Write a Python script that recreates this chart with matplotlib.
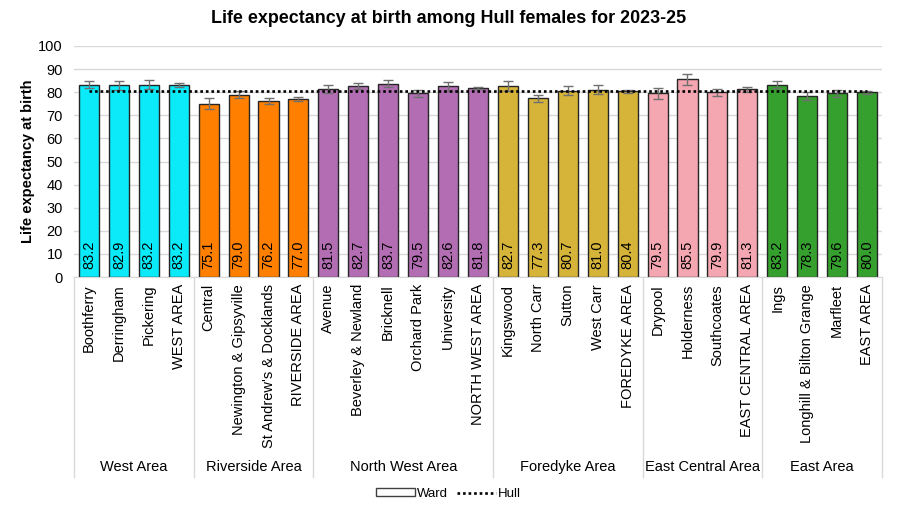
"""Life expectancy at birth among Hull females, 2023-25, by ward and area."""

import matplotlib

matplotlib.use("Agg")
import matplotlib.pyplot as plt
from matplotlib.lines import Line2D
from matplotlib.patches import Patch

plt.rcParams["font.family"] = ["Liberation Sans", "DejaVu Sans"]

wards = [
    "Boothferry", "Derringham", "Pickering", "WEST AREA",
    "Central", "Newington & Gipsyville", "St Andrew's & Docklands", "RIVERSIDE AREA",
    "Avenue", "Beverley & Newland", "Bricknell", "Orchard Park", "University", "NORTH WEST AREA",
    "Kingswood", "North Carr", "Sutton", "West Carr", "FOREDYKE AREA",
    "Drypool", "Holderness", "Southcoates", "EAST CENTRAL AREA",
    "Ings", "Longhill & Bilton Grange", "Marfleet", "EAST AREA",
]
areas = ["West Area", "Riverside Area", "North West Area", "Foredyke Area",
         "East Central Area", "East Area"]
area_sizes = [4, 4, 6, 5, 4, 4]
area_colors = ["#0AEAF8", "#FF8000", "#B36DB3", "#D6B43A", "#F4A6B1", "#35A02D"]

values = [83.2, 82.9, 83.2, 83.2,
          75.1, 79.0, 76.2, 77.0,
          81.5, 82.7, 83.7, 79.5, 82.6, 81.8,
          82.7, 77.3, 80.7, 81.0, 80.4,
          79.5, 85.5, 79.9, 81.3,
          83.2, 78.3, 79.6, 80.0]
errors = [1.6, 1.9, 1.9, 0.9,
          2.3, 1.4, 1.5, 0.9,
          1.7, 1.4, 1.5, 1.5, 1.9, 0.5,
          2.2, 1.5, 1.8, 1.9, 0.6,
          2.4, 2.2, 1.6, 1.0,
          1.6, 1.6, 1.5, 0.6]
hull = 80.6

DOTS = (0, (1, 1.1))

fig = plt.figure(figsize=(8.97, 5.15), dpi=100)
ax = fig.add_axes([0.0825, 0.4621, 0.9008, 0.4486])

colors = []
for c, n in zip(area_colors, area_sizes):
    colors += [c] * n
x = list(range(len(wards)))

ax.bar(x, values, width=0.67, color=colors, edgecolor="#262626", linewidth=1.0, zorder=2)
ax.errorbar(x, values, yerr=errors, fmt="none", ecolor="#707070", elinewidth=1.0,
            capsize=3.5, capthick=1.0, zorder=3)
ax.plot(x, [hull] * len(x), color="black", ls=DOTS, lw=1.9, zorder=4)

for xi, v in zip(x, values):
    ax.text(xi, 3.5, f"{v:.1f}", rotation=90, ha="center", va="bottom",
            fontsize=10.5, color="black", zorder=5)

ax.set_xlim(-0.5, len(wards) - 0.5)
ax.set_ylim(0, 100)
ax.set_yticks(range(0, 101, 10))
ax.tick_params(axis="y", length=0, labelsize=10.5, pad=8)
ax.grid(axis="y", color="#D9D9D9", lw=1, zorder=0)
ax.set_axisbelow(True)
for side in ("left", "right", "top"):
    ax.spines[side].set_visible(False)
ax.spines["bottom"].set_color("#D9D9D9")

ax.set_xticks(x)
ax.set_xticklabels(wards, rotation=90, fontsize=10.5, va="top", ha="center")
ax.tick_params(axis="x", length=0, pad=5)

ax.set_ylabel("Life expectancy at birth", fontsize=10.5, fontweight="bold", labelpad=2)

# group separators and area labels below the ward names
tr = ax.get_xaxis_transform()
edges = [-0.5]
for n in area_sizes:
    edges.append(edges[-1] + n)
for e in edges:
    ax.add_line(Line2D([e, e], [0, -0.866], transform=tr, color="#D9D9D9",
                       lw=1, clip_on=False))
for name, lo, hi in zip(areas, edges[:-1], edges[1:]):
    ax.text((lo + hi) / 2, -0.822, name, transform=tr, ha="center", va="center",
            fontsize=10.5)

fig.text(0.5, 0.965, "Life expectancy at birth among Hull females for 2023-25",
         ha="center", va="center", fontsize=12.9, fontweight="bold")

handles = [Patch(facecolor="white", edgecolor="#404040", linewidth=1.0),
           Line2D([], [], color="black", ls=DOTS, lw=1.9)]
fig.legend(handles, ["Ward", "Hull"], loc="center", bbox_to_anchor=(0.5, 0.041),
           ncol=2, frameon=False, fontsize=9.5, handlelength=2.9, handleheight=0.5,
           columnspacing=0.75, handletextpad=0.15)

fig.savefig("out.png", dpi=100)
